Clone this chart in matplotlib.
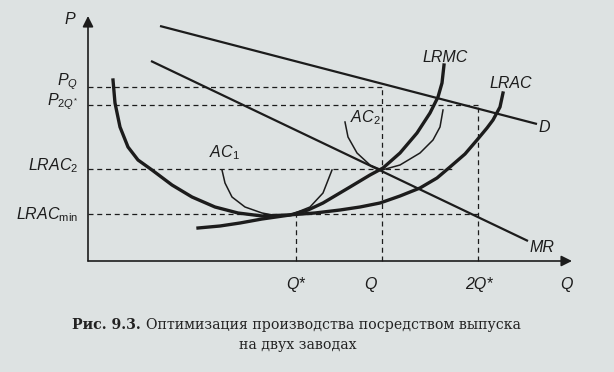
import matplotlib
matplotlib.use("Agg")
import matplotlib.pyplot as plt

# ── Data (Q = output, P = price; units are arbitrary chart units) ─────────────
d_q = [72, 449]
d_p = [235, 137]

mr_q = [63, 440]
mr_p = [200, 20]

lrac_q = [25, 27, 32, 40, 50, 64, 84, 104, 127, 150, 174, 200, 227, 252, 272,
          292, 312, 332, 349, 362, 377, 389, 399, 405, 412, 415]
lrac_p = [181, 158, 134, 114, 101, 91, 76, 64, 54, 48, 45, 46, 48, 51, 54,
          58, 65, 73, 83, 94, 107, 121, 133, 141, 154, 168]

lrmc_q = [110, 132, 152, 174, 202, 220, 235, 262, 282, 295, 312, 329, 342, 350, 354, 356]
lrmc_p = [33, 35, 38, 42, 46, 51, 58, 74, 86, 93, 108, 128, 148, 164, 178, 196]

ac1_q = [134, 137, 144, 157, 174, 190, 202, 222, 235, 244]
ac1_p = [91, 78, 64, 54, 48, 45, 46, 54, 68, 91]

ac2_q = [257, 260, 269, 282, 294, 312, 332, 345, 352, 355]
ac2_p = [139, 124, 108, 96, 91, 96, 108, 121, 134, 151]

# guide levels / quantities
q_star, q_two, q_2star = 208, 294, 390
p_q, p_2q, lrac_2, lrac_min = 174, 156, 92, 47
lrac2_end = 367

y_labels = [r"$P_{Q}$", r"$P_{2Q^{*}}$", r"$LRAC_{2}$", r"$LRAC_{\mathrm{min}}$"]
y_label_pos = [179, 159, 95, 46]
x_labels = ["Q*", "Q", "2Q*"]
x_label_pos = [208, 282, 391]

caption_bold = "Рис. 9.3."
caption_1 = "Оптимизация производства посредством выпуска"
caption_2 = "на двух заводах"

# ── Style ─────────────────────────────────────────────────────────────────────
PAPER = "#dde2e2"
INK = "#1c1c1c"
plt.rcParams["mathtext.fontset"] = "custom"
plt.rcParams["mathtext.it"] = "Liberation Sans:italic"
plt.rcParams["mathtext.rm"] = "Liberation Sans"
plt.rcParams["font.family"] = "Liberation Sans"

fig = plt.figure(figsize=(6.14, 3.72), dpi=100, facecolor=PAPER)
ax = fig.add_axes([0, 0, 1, 1])
ax.set_facecolor(PAPER)
ax.set_xlim(-88, 526)
ax.set_ylim(-111, 261)
ax.axis("off")

# axes with arrows
ax.annotate("", xy=(0, 245), xytext=(0, 0),
            arrowprops=dict(arrowstyle="-|>", color=INK, lw=1.2,
                            mutation_scale=16, shrinkA=0, shrinkB=0))
ax.annotate("", xy=(484, 0), xytext=(0, 0),
            arrowprops=dict(arrowstyle="-|>", color=INK, lw=1.2,
                            mutation_scale=16, shrinkA=0, shrinkB=0))

# dashed guides
dash = dict(color=INK, lw=0.9, ls=(0, (4, 3)))
ax.plot([0, q_two], [p_q, p_q], **dash)
ax.plot([0, q_2star], [p_2q, p_2q], **dash)
ax.plot([0, lrac2_end], [lrac_2, lrac_2], **dash)
ax.plot([0, q_2star], [lrac_min, lrac_min], **dash)
ax.plot([q_star, q_star], [0, lrac_min], **dash)
ax.plot([q_two, q_two], [0, p_q], **dash)
ax.plot([q_2star, q_2star], [0, p_2q], **dash)

# curves
ax.plot(d_q, d_p, color=INK, lw=1.6, solid_capstyle="butt")
ax.plot(mr_q, mr_p, color=INK, lw=1.6, solid_capstyle="butt")
ax.plot(lrac_q, lrac_p, color=INK, lw=2.4, solid_joinstyle="round")
ax.plot(lrmc_q, lrmc_p, color=INK, lw=2.4, solid_joinstyle="round")
ax.plot(ac1_q, ac1_p, color=INK, lw=1.1, solid_joinstyle="round")
ax.plot(ac2_q, ac2_p, color=INK, lw=1.1, solid_joinstyle="round")

# labels
lab = dict(color=INK, fontsize=11.5, style="italic")
ax.text(-18, 241, "P", ha="center", va="center", **lab)
for s, y in zip(y_labels, y_label_pos):
    ax.text(-10, y, s, ha="right", va="center", color=INK, fontsize=11.5)
for s, x in zip(x_labels, x_label_pos):
    ax.text(x, -24, s, ha="center", va="center", **lab)
ax.text(478, -24, "Q", ha="center", va="center", **lab)
ax.text(136, 108, r"$AC_{1}$", ha="center", va="center", color=INK, fontsize=11.5)
ax.text(277, 143, r"$AC_{2}$", ha="center", va="center", color=INK, fontsize=11.5)
ax.text(357, 204, "LRMC", ha="center", va="center", **lab)
ax.text(423, 178, "LRAC", ha="center", va="center", **lab)
ax.text(456, 133, "D", ha="center", va="center", **lab)
ax.text(454, 14, "MR", ha="center", va="center", **lab)

# caption
cb = ax.text(-16, -68, caption_bold, ha="left", va="baseline",
             fontsize=10.2, family="DejaVu Serif", fontweight="bold", color="#222222")
ax.annotate(caption_1, xy=(1, 0), xycoords=cb, xytext=(4, 0),
            textcoords="offset points", ha="left", va="bottom",
            fontsize=10.2, family="DejaVu Serif", color="#222222")
ax.text(210, -88, caption_2, ha="center", va="baseline",
        fontsize=10.2, family="DejaVu Serif", color="#222222")

fig.savefig("out.png", dpi=100, facecolor=PAPER)
